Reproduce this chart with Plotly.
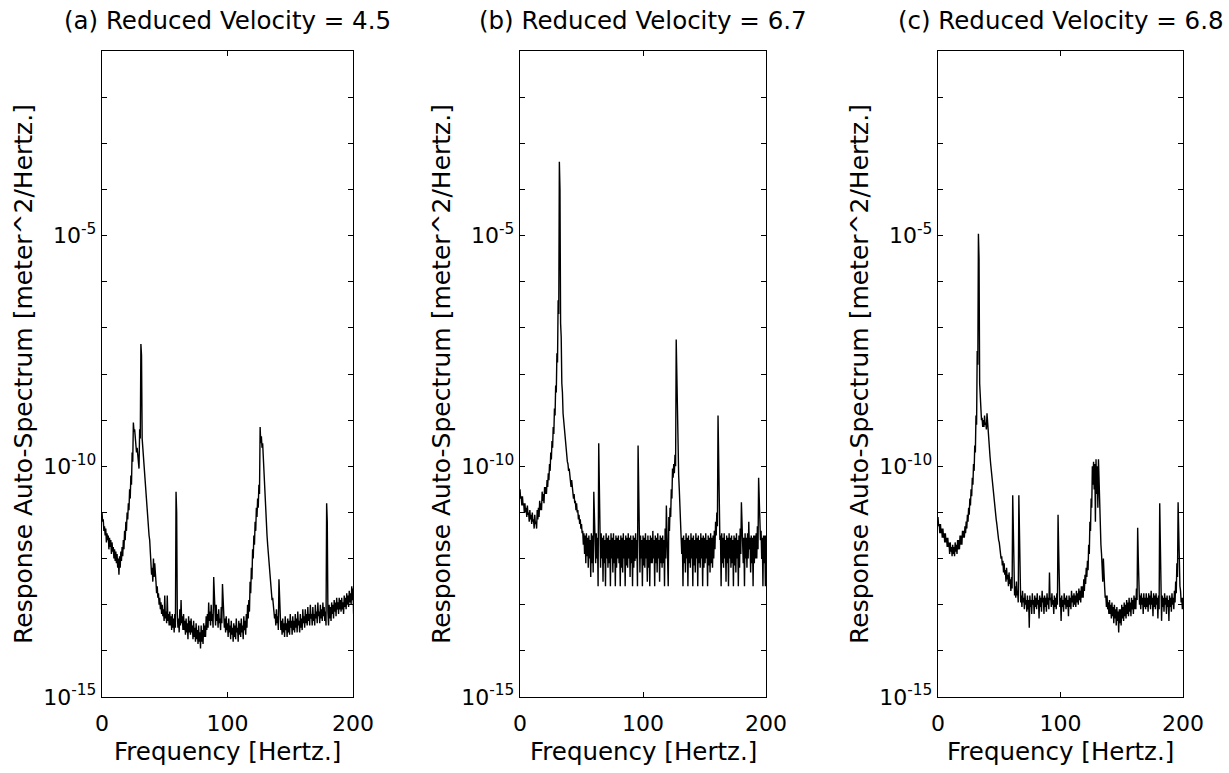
import plotly.graph_objects as go

# ---------------- data (log10 of auto-spectrum) ----------------
# Each 1 Hz bin: upper (HI) and lower (LO) extent of the trace inside that bin.
FREQ_HZ = list(range(0, 201))

A_HI = [
    -11.0, -11.15, -11.3, -11.35, -11.45, -11.5, -11.55, -11.6, -11.65, -11.75,
    -11.8, -11.85, -11.9, -12.0, -11.95, -11.85, -11.75, -11.6, -11.4, -11.2,
    -11.0, -10.8, -10.5, -10.2, -9.7, -9.05, -9.2, -9.5, -9.6, -9.9,
    -9.2, -7.35, -9.4, -9.9, -10.3, -10.7, -11.0, -11.3, -11.6, -12.0,
    -12.2, -12.0, -12.1, -12.5, -12.6, -12.75, -12.85, -12.95, -13.0, -13.1,
    -12.8, -13.15, -12.8, -13.2, -13.15, -13.25, -13.2, -13.3, -13.2, -10.55,
    -13.2, -13.3, -13.1, -12.9, -13.25, -13.2, -13.35, -13.3, -13.4, -13.25,
    -13.35, -13.3, -13.45, -13.35, -13.5, -13.4, -13.55, -13.45, -13.6, -13.45,
    -13.55, -13.4, -13.45, -13.25, -13.2, -12.95, -13.15, -13.0, -13.2, -12.4,
    -13.15, -13.0, -13.2, -13.1, -13.3, -13.05, -12.55, -13.2, -13.3, -13.25,
    -13.4, -13.3, -13.45, -13.35, -13.5, -13.4, -13.45, -13.3, -13.5, -13.35,
    -13.4, -13.3, -13.45, -13.25, -13.35, -13.2, -13.0, -12.9, -12.5, -12.2,
    -11.8, -11.5, -11.2, -10.9, -10.7, -10.4, -9.15, -9.35, -9.5, -10.3,
    -10.8, -11.3, -11.7, -12.1, -12.35, -12.7, -12.85, -13.05, -13.2, -13.1,
    -13.25, -12.45, -13.25, -13.35, -13.3, -13.4, -13.25, -13.4, -13.3, -13.35,
    -13.2, -13.35, -13.25, -13.35, -13.2, -13.3, -13.15, -13.35, -13.2, -13.3,
    -13.1, -13.25, -13.1, -13.2, -13.05, -13.2, -13.0, -13.2, -13.05, -13.2,
    -13.0, -13.15, -12.95, -13.15, -13.0, -13.1, -12.95, -13.05, -13.15, -10.8,
    -13.15, -13.0, -13.05, -12.95, -13.0, -12.9, -12.95, -12.85, -12.95, -12.85,
    -12.9, -12.85, -12.95, -12.8, -12.85, -12.75, -12.8, -12.7, -12.75, -12.6,
    -12.65,
]
A_LO = [
    -11.2, -11.4, -11.5, -11.65, -11.6, -11.8, -11.75, -11.9, -11.85, -12.0,
    -12.05, -12.1, -12.2, -12.35, -12.2, -12.05, -11.95, -11.8, -11.6, -11.4,
    -11.15, -10.95, -10.7, -10.4, -9.9, -9.25, -9.4, -9.7, -9.8, -10.05,
    -9.4, -7.6, -9.6, -10.1, -10.5, -10.9, -11.2, -11.5, -11.8, -12.35,
    -12.5, -12.4, -12.5, -12.75, -12.85, -13.0, -13.1, -13.2, -13.25, -13.35,
    -13.3, -13.4, -13.35, -13.45, -13.45, -13.55, -13.5, -13.6, -13.5, -11.0,
    -13.5, -13.6, -13.45, -13.4, -13.55, -13.55, -13.65, -13.6, -13.75, -13.6,
    -13.65, -13.6, -13.75, -13.7, -13.8, -13.75, -13.85, -13.8, -13.95, -13.8,
    -13.85, -13.7, -13.7, -13.55, -13.5, -13.35, -13.45, -13.35, -13.5, -12.9,
    -13.45, -13.35, -13.5, -13.4, -13.55, -13.4, -13.0, -13.5, -13.6, -13.55,
    -13.7, -13.6, -13.75, -13.65, -13.8, -13.7, -13.75, -13.6, -13.8, -13.65,
    -13.7, -13.6, -13.75, -13.55, -13.65, -13.5, -13.3, -13.15, -12.75, -12.45,
    -12.0, -11.7, -11.4, -11.1, -10.9, -10.6, -9.5, -9.6, -9.8, -10.5,
    -11.0, -11.5, -11.9, -12.3, -12.6, -12.9, -13.1, -13.3, -13.45, -13.4,
    -13.55, -13.0, -13.55, -13.65, -13.6, -13.7, -13.55, -13.7, -13.6, -13.65,
    -13.5, -13.65, -13.55, -13.6, -13.5, -13.6, -13.45, -13.6, -13.5, -13.55,
    -13.4, -13.5, -13.4, -13.45, -13.35, -13.45, -13.3, -13.45, -13.35, -13.45,
    -13.3, -13.4, -13.25, -13.4, -13.3, -13.35, -13.25, -13.35, -13.45, -11.2,
    -13.45, -13.3, -13.35, -13.2, -13.3, -13.15, -13.25, -13.1, -13.2, -13.1,
    -13.15, -13.1, -13.2, -13.05, -13.1, -13.0, -13.05, -12.95, -13.0, -12.9,
    -13.2,
]

B_HI = [
    -10.5, -10.65, -10.65, -10.8, -10.8, -10.9, -10.85, -11.0, -10.95, -11.05,
    -11.0, -11.15, -11.05, -11.2, -10.95, -10.9, -10.75, -10.8, -10.55, -10.6,
    -10.45, -10.45, -10.3, -10.15, -9.95, -9.7, -9.45, -9.15, -8.75, -8.25,
    -7.55, -6.4, -3.4, -6.9, -8.2, -8.85, -9.25, -9.5, -9.75, -9.95,
    -10.05, -10.25, -10.3, -10.5, -10.6, -10.75, -10.8, -10.95, -11.05, -11.15,
    -11.25, -11.4, -11.45, -11.5, -11.45, -11.55, -11.5, -11.6, -11.45, -11.5,
    -10.55, -11.5, -11.45, -11.55, -9.5, -11.5, -11.45, -11.55, -11.5, -11.6,
    -11.45, -11.55, -11.5, -11.6, -11.45, -11.55, -11.45, -11.6, -11.5, -11.55,
    -11.5, -11.6, -11.5, -11.55, -11.45, -11.6, -11.5, -11.55, -11.45, -11.55,
    -11.5, -11.6, -11.5, -11.55, -11.45, -11.6, -9.55, -11.55, -11.5, -11.6,
    -11.5, -11.55, -11.45, -11.6, -11.5, -11.6, -11.5, -11.55, -11.4, -11.6,
    -11.5, -11.55, -11.45, -11.6, -11.5, -11.55, -11.5, -11.6, -11.35, -10.85,
    -11.4, -11.1, -10.9, -10.5, -10.05, -9.95, -9.75, -7.25, -9.35, -10.2,
    -10.8, -11.4, -11.55, -11.5, -11.6, -11.45, -11.55, -11.5, -11.6, -11.45,
    -11.55, -11.5, -11.6, -11.45, -11.55, -11.5, -11.6, -11.45, -11.55, -11.5,
    -11.55, -11.45, -11.6, -11.5, -11.55, -11.45, -11.55, -11.5, -11.4, -11.2,
    -11.0, -8.9, -11.1, -11.5, -11.45, -11.55, -11.45, -11.6, -11.5, -11.55,
    -11.45, -11.55, -11.5, -11.6, -11.5, -11.55, -11.45, -11.6, -11.5, -11.35,
    -10.78, -11.5, -11.55, -11.45, -11.55, -11.45, -11.2, -11.55, -11.5, -11.55,
    -11.5, -11.5, -11.45, -11.3, -10.25, -11.15, -11.4, -11.55, -11.5, -11.5,
    -11.5,
]
B_LO = [
    -10.7, -10.85, -10.85, -11.0, -11.0, -11.1, -11.05, -11.2, -11.15, -11.25,
    -11.2, -11.35, -11.25, -11.35, -11.15, -11.1, -10.95, -10.95, -10.75, -10.8,
    -10.6, -10.6, -10.45, -10.3, -10.1, -9.85, -9.6, -9.3, -8.9, -8.4,
    -7.75, -6.7, -4.0, -7.2, -8.4, -9.0, -9.4, -9.65, -9.9, -10.1,
    -10.25, -10.45, -10.5, -10.7, -10.8, -10.95, -11.0, -11.15, -11.25, -11.35,
    -11.45, -11.7, -11.9, -12.1, -11.95, -12.2, -12.0, -12.4, -12.1, -12.3,
    -11.2, -12.1, -12.0, -12.6, -10.3, -12.2, -12.0, -12.5, -12.1, -12.6,
    -12.0, -12.2, -12.1, -12.6, -12.0, -12.3, -12.1, -12.6, -12.2, -12.0,
    -12.1, -12.6, -12.2, -12.3, -12.0, -12.6, -12.15, -12.2, -12.0, -12.4,
    -12.1, -12.6, -12.2, -12.05, -12.0, -12.6, -10.4, -12.3, -12.0, -12.6,
    -12.15, -12.2, -12.0, -12.5, -12.2, -12.6, -12.1, -12.1, -12.0, -12.6,
    -12.1, -12.3, -12.0, -12.5, -12.1, -12.2, -12.1, -12.6, -12.0, -11.5,
    -12.6, -11.4, -11.1, -10.7, -10.25, -10.15, -10.0, -8.0, -9.6, -10.5,
    -11.1, -11.9, -12.6, -12.1, -12.3, -12.0, -12.6, -12.1, -12.2, -12.0,
    -12.6, -12.15, -12.3, -12.0, -12.6, -12.1, -12.2, -12.0, -12.6, -12.2,
    -12.1, -12.0, -12.6, -12.15, -12.3, -12.1, -12.2, -12.0, -11.8, -11.5,
    -11.3, -9.6, -11.6, -12.6, -12.1, -12.2, -12.0, -12.5, -12.1, -12.6,
    -12.0, -12.2, -12.1, -12.6, -12.15, -12.3, -12.0, -12.6, -12.2, -11.9,
    -11.5, -12.1, -12.6, -12.0, -12.2, -12.0, -11.8, -12.3, -12.1, -12.6,
    -12.1, -12.0, -12.0, -11.8, -10.9, -11.6, -12.0, -12.6, -12.1, -12.6,
    -12.6,
]

C_HI = [
    -11.1, -11.25, -11.25, -11.35, -11.35, -11.45, -11.45, -11.55, -11.55, -11.65,
    -11.65, -11.75, -11.7, -11.75, -11.65, -11.7, -11.6, -11.6, -11.5, -11.5,
    -11.4, -11.4, -11.3, -11.2, -11.05, -10.9, -10.7, -10.5, -10.25, -9.95,
    -9.55, -8.9, -7.5, -4.96, -8.2, -8.8, -8.95, -9.0, -8.9, -9.05,
    -8.85, -9.35, -9.65, -9.95, -10.25, -10.5, -10.75, -11.0, -11.25, -11.45,
    -11.65, -11.85, -11.95, -12.05, -12.1, -12.25, -12.2, -12.35, -12.3, -12.45,
    -12.4, -10.63, -12.55, -12.6, -12.5, -12.7, -10.63, -12.7, -12.8, -12.7,
    -12.85, -12.75, -12.9, -12.8, -12.9, -12.8, -12.9, -12.75, -12.9, -12.8,
    -12.85, -12.75, -12.9, -12.8, -12.85, -12.7, -12.85, -12.8, -12.85, -12.75,
    -12.85, -12.3, -12.85, -12.75, -12.9, -12.8, -12.85, -12.75, -11.05, -12.8,
    -12.85, -12.8, -12.9, -12.75, -12.85, -12.8, -12.9, -12.8, -12.85, -12.7,
    -12.8, -12.75, -12.8, -12.7, -12.75, -12.65, -12.7, -12.6, -12.6, -12.45,
    -12.35, -12.2, -12.05, -11.7, -11.2, -10.7, -10.0, -9.9, -9.95, -9.85,
    -10.0, -9.85, -11.1, -11.7, -12.3, -12.0, -12.6, -12.8, -12.8, -12.95,
    -12.9, -13.0, -12.95, -13.05, -13.0, -13.1, -13.05, -13.15, -13.1, -13.1,
    -13.0, -13.05, -12.95, -13.0, -12.9, -12.95, -12.85, -12.95, -12.85, -12.9,
    -12.8, -12.85, -12.65, -11.33, -12.7, -12.8, -12.75, -12.85, -12.75, -12.85,
    -12.75, -12.85, -12.75, -12.8, -12.7, -12.85, -12.75, -12.8, -12.75, -12.85,
    -12.8, -10.8, -12.85, -12.8, -12.85, -12.75, -12.85, -12.8, -12.9, -12.8,
    -12.85, -12.75, -12.85, -12.7, -12.5, -12.1, -10.78, -12.3, -12.7, -12.85,
    -12.85,
]
C_LO = [
    -11.3, -11.45, -11.45, -11.55, -11.55, -11.65, -11.65, -11.75, -11.75, -11.9,
    -11.85, -11.95, -11.9, -11.95, -11.85, -11.9, -11.8, -11.8, -11.7, -11.7,
    -11.55, -11.55, -11.45, -11.35, -11.2, -11.05, -10.85, -10.65, -10.4, -10.1,
    -9.7, -9.1, -7.8, -5.5, -8.45, -9.0, -9.15, -9.15, -9.1, -9.2,
    -9.1, -9.5, -9.8, -10.1, -10.4, -10.65, -10.9, -11.15, -11.4, -11.6,
    -11.8, -12.0, -12.15, -12.3, -12.35, -12.5, -12.45, -12.6, -12.55, -12.7,
    -12.65, -11.3, -12.8, -12.85, -12.8, -12.95, -11.3, -12.95, -13.05, -12.95,
    -13.1, -13.0, -13.15, -13.1, -13.5, -13.05, -13.2, -13.0, -13.2, -13.05,
    -13.1, -13.0, -13.3, -13.05, -13.15, -12.95, -13.2, -13.05, -13.15, -13.0,
    -13.1, -12.9, -13.05, -13.0, -13.2, -13.05, -13.1, -13.0, -11.8, -13.05,
    -13.35, -13.05, -13.15, -13.0, -13.1, -13.05, -13.25, -13.05, -13.1, -12.95,
    -13.05, -13.0, -13.05, -12.95, -13.0, -12.9, -12.95, -12.85, -12.85, -12.7,
    -12.55, -12.4, -12.25, -11.9, -11.4, -10.9, -10.4, -10.5, -11.2, -10.6,
    -10.9, -10.5, -11.3, -11.9, -12.5, -12.6, -12.85, -13.05, -13.1, -13.2,
    -13.2, -13.3, -13.25, -13.4, -13.3, -13.45, -13.35, -13.6, -13.4, -13.45,
    -13.3, -13.35, -13.25, -13.3, -13.2, -13.25, -13.15, -13.25, -13.1, -13.2,
    -13.1, -13.1, -12.9, -12.0, -13.0, -13.1, -13.0, -13.2, -13.05, -13.1,
    -13.05, -13.15, -13.0, -13.1, -13.0, -13.25, -13.05, -13.1, -13.0, -13.3,
    -13.1, -11.5, -13.35, -13.05, -13.15, -13.0, -13.2, -13.05, -13.35, -13.05,
    -13.15, -13.0, -13.1, -12.95, -12.75, -12.4, -11.5, -12.6, -12.95, -13.1,
    -13.05,
]

PANEL_TITLES = [
    "(a) Reduced Velocity = 4.5",
    "(b) Reduced Velocity = 6.7",
    "(c) Reduced Velocity = 6.8",
]
X_TICKS = [0, 100, 200]
DECADES = list(range(-15, 0))
LABELED_DECADES = [-15, -10, -5]
X_TITLE = "Frequency [Hertz.]"
Y_TITLE = "Response Auto-Spectrum [meter^2/Hertz.]"

# ---------------- figure ----------------
W, H = 1229, 773
ML, MR, MT, MB = 102, 46, 51, 76
PW = W - ML - MR
PH = H - MT - MB
panel_px = [(102, 353), (520, 766), (938, 1183)]
domains = [[(a - ML) / PW, (b - ML) / PW] for a, b in panel_px]

FONT = "DejaVu Sans"
series = [(A_HI, A_LO), (B_HI, B_LO), (C_HI, C_LO)]

fig = go.Figure()
for i, (hi, lo) in enumerate(series):
    sfx = "" if i == 0 else str(i + 1)
    xs, ys = [], []
    for f, h, l in zip(FREQ_HZ, hi, lo):
        xs += [f, f + 0.5]          # upper and lower sample within the bin
        ys += [10 ** h, 10 ** l]
    fig.add_trace(go.Scatter(
        x=xs, y=ys, mode="lines",
        line=dict(color="black", width=1.4),
        xaxis="x" + sfx, yaxis="y" + sfx, showlegend=False,
    ))

ytickvals = [10.0 ** d for d in DECADES]
yticktext = ["10<sup>%d</sup>" % d if d in LABELED_DECADES else "" for d in DECADES]

common_axis = dict(
    showline=True, linecolor="black", linewidth=1.4, mirror="ticks",
    ticks="inside", ticklen=5, tickwidth=1.2, tickcolor="black",
    showgrid=False, zeroline=False, automargin=False,
    tickfont=dict(family=FONT, size=22, color="black"),
)

layout = dict(
    width=W, height=H,
    margin=dict(l=ML, r=MR, t=MT, b=MB, autoexpand=False),
    paper_bgcolor="white", plot_bgcolor="white",
    font=dict(family=FONT, color="black"),
)
annotations = []
for i in range(3):
    sfx = "" if i == 0 else str(i + 1)
    layout["xaxis" + sfx] = dict(
        common_axis, domain=domains[i], range=[0, 200],
        tickvals=X_TICKS, ticktext=[str(t) for t in X_TICKS],
        anchor="y" + sfx, ticklabelstandoff=6,
    )
    layout["yaxis" + sfx] = dict(
        common_axis, type="log", range=[-15, -1],
        tickvals=ytickvals, ticktext=yticktext,
        anchor="x" + sfx, domain=[0, 1],
    )
    x0, x1 = panel_px[i]
    cx = ((x0 + x1) / 2 - ML) / PW
    annotations.append(dict(
        text=PANEL_TITLES[i], xref="paper", yref="paper", x=cx, y=(H - MB - 21) / PH,
        xanchor="center", yanchor="middle", showarrow=False,
        font=dict(family=FONT, size=24.5, color="black"),
    ))
    annotations.append(dict(
        text=X_TITLE, xref="paper", yref="paper", x=cx, y=(H - MB - 751) / PH,
        xanchor="center", yanchor="middle", showarrow=False,
        font=dict(family=FONT, size=24.5, color="black"),
    ))
    annotations.append(dict(
        text=Y_TITLE, xref="paper", yref="paper", x=(x0 - 79 - ML) / PW, y=0.5,
        xanchor="center", yanchor="middle", showarrow=False, textangle=-90,
        font=dict(family=FONT, size=25, color="black"),
    ))
layout["annotations"] = annotations
fig.update_layout(**layout)

fig.write_html(
    "out.html",
    config={"displayModeBar": False},
    post_script="document.body.style.margin='0';document.body.style.overflow='hidden';",
)
